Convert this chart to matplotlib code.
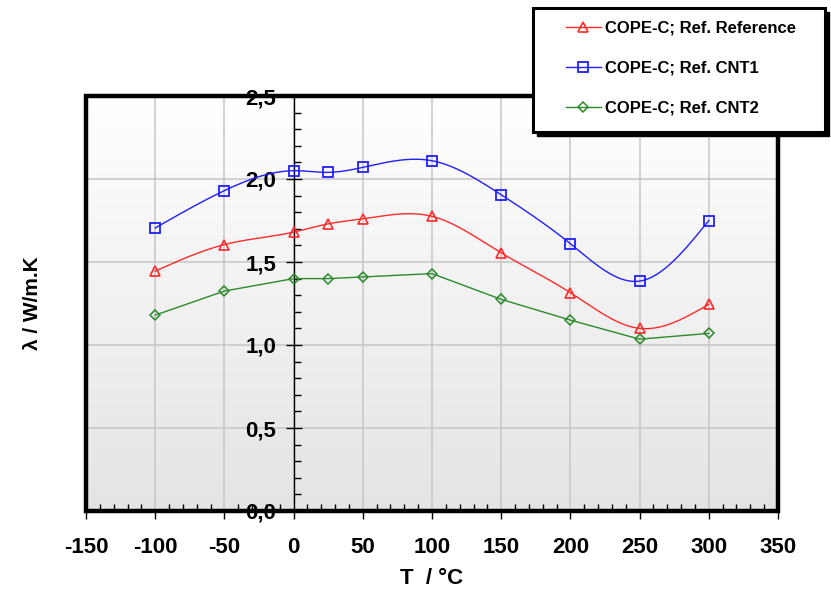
import numpy as np
import matplotlib
matplotlib.use('Agg')
import matplotlib.pyplot as plt
from matplotlib.patches import Rectangle
from matplotlib.lines import Line2D
from matplotlib.colors import LinearSegmentedColormap
from matplotlib.ticker import MultipleLocator, FuncFormatter

plt.rcParams['font.family'] = ['Liberation Sans', 'DejaVu Sans']
plt.rcParams['axes.unicode_minus'] = False

# data
temps = [-100, -50, 0, 25, 50, 100, 150, 200, 250, 300]
lam_ref = [1.445, 1.605, 1.68, 1.73, 1.76, 1.775, 1.555, 1.315, 1.10, 1.245]
lam_cnt1 = [1.705, 1.93, 2.05, 2.04, 2.07, 2.11, 1.905, 1.61, 1.385, 1.75]
lam_cnt2 = [1.18, 1.325, 1.40, 1.40, 1.41, 1.43, 1.275, 1.15, 1.035, 1.07]
labels = ['COPE-C; Ref. Reference', 'COPE-C; Ref. CNT1', 'COPE-C; Ref. CNT2']


def natural_spline(x, y, n=400):
    # natural cubic spline through the points, only used for drawing the curve
    x = np.asarray(x, float)
    y = np.asarray(y, float)
    k = len(x)
    h = np.diff(x)
    A = np.zeros((k, k))
    b = np.zeros(k)
    A[0, 0] = 1
    A[-1, -1] = 1
    for i in range(1, k - 1):
        A[i, i - 1] = h[i - 1]
        A[i, i] = 2 * (h[i - 1] + h[i])
        A[i, i + 1] = h[i]
        b[i] = 3 * ((y[i + 1] - y[i]) / h[i] - (y[i] - y[i - 1]) / h[i - 1])
    c = np.linalg.solve(A, b)
    xs = np.linspace(x[0], x[-1], n)
    idx = np.clip(np.searchsorted(x, xs) - 1, 0, k - 2)
    dx = xs - x[idx]
    hi = h[idx]
    bb = (y[idx + 1] - y[idx]) / hi - hi * (2 * c[idx] + c[idx + 1]) / 3
    dd = (c[idx + 1] - c[idx]) / (3 * hi)
    ys = y[idx] + bb * dx + c[idx] * dx ** 2 + dd * dx ** 3
    return xs, ys


W, H = 831, 591
fig = plt.figure(figsize=(W / 100, H / 100), dpi=100)
ax = fig.add_axes([86 / W, 1 - 511 / H, 692 / W, 415 / H])

# gradient background
grad = np.linspace(0, 1, 256).reshape(-1, 1)
cmap = LinearSegmentedColormap.from_list('bg', ['#ffffff', '#e4e4e4'])
ax.imshow(grad, extent=[-150, 350, 0, 2.5], aspect='auto', cmap=cmap,
          origin='upper', zorder=0)

red = '#ff2a2a'
blue = '#1f1fff'
green = '#2a8a2a'

xs, ys = natural_spline(temps, lam_ref)
ax.plot(xs, ys, color=red, lw=1.0, zorder=3)
ax.plot(temps, lam_ref, ls='none', marker='^', ms=7, mfc='none', mec=red, mew=1.2, zorder=4)

xs, ys = natural_spline(temps, lam_cnt1)
ax.plot(xs, ys, color=blue, lw=1.0, zorder=3)
ax.plot(temps, lam_cnt1, ls='none', marker='s', ms=7, mfc='none', mec=blue, mew=1.3, zorder=4)

ax.plot(temps, lam_cnt2, color=green, lw=1.0, marker='D', ms=5, mfc='none',
        mec=green, mew=1.1, zorder=3)

ax.set_xlim(-150, 350)
ax.set_ylim(0, 2.5)

for v in range(-100, 301, 50):
    ax.axvline(v, color='#c6c6c6', lw=1.1, zorder=1)
for v in [0.5, 1.0, 1.5, 2.0]:
    ax.axhline(v, color='#c6c6c6', lw=1.1, zorder=1)

for s in ['top', 'right', 'bottom']:
    ax.spines[s].set_visible(False)
ax.spines['left'].set_position(('data', 0))
ax.spines['left'].set_linewidth(1.0)
ax.spines['left'].set_zorder(2)

ax.add_patch(Rectangle((0, 0), 1, 1, transform=ax.transAxes, fill=False,
                       ec='black', lw=3.2, clip_on=False, zorder=5))

ax.xaxis.set_major_locator(MultipleLocator(50))
ax.xaxis.set_minor_locator(MultipleLocator(10))
ax.yaxis.set_major_locator(MultipleLocator(0.5))
ax.yaxis.set_minor_locator(MultipleLocator(0.1))
ax.yaxis.set_major_formatter(FuncFormatter(lambda v, p: ('%.1f' % v).replace('.', ',')))

ax.tick_params(axis='x', which='major', direction='out', length=6, width=1,
               pad=13, labelsize=16)
ax.tick_params(axis='x', which='minor', direction='in', length=5, width=1)
ax.tick_params(axis='y', which='major', direction='inout', length=11, width=1,
               pad=7, labelsize=16)
ax.tick_params(axis='y', which='minor', direction='in', length=5, width=1)
for t in ax.get_yticklabels():
    t.set_fontweight('bold')
for t in ax.get_xticklabels():
    t.set_fontweight('bold')

ax.set_xlabel('T  / \u00b0C', fontsize=16, fontweight='bold', labelpad=7)
ax.set_ylabel('\u03bb / W/m.K', fontsize=15, fontweight='bold')
ax.yaxis.set_label_coords(-0.064, 0.5)

# legend box with shadow
lx0, ly0, lw_, lh = 533 / W, 1 - 132 / H, 292 / W, 124 / H
fig.patches.append(Rectangle((lx0 + 4 / W, ly0 - 4 / H), lw_, lh, transform=fig.transFigure,
                             fc='black', ec='black', zorder=8))
fig.patches.append(Rectangle((lx0, ly0), lw_, lh, transform=fig.transFigure,
                             fc='white', ec='black', lw=2.2, zorder=9))

handles = [
    Line2D([], [], color=red, lw=1.0, marker='^', ms=7, mfc='none', mec=red, mew=1.2),
    Line2D([], [], color=blue, lw=1.0, marker='s', ms=7, mfc='none', mec=blue, mew=1.3),
    Line2D([], [], color=green, lw=1.0, marker='D', ms=5, mfc='none', mec=green, mew=1.1),
]
leg = fig.legend(handles, labels, loc='upper left', bbox_to_anchor=(559 / W, 1 - 14 / H),
                 frameon=False, prop={'size': 12, 'weight': 'bold'},
                 handlelength=2.1, handletextpad=0.25, labelspacing=1.5,
                 borderaxespad=0, borderpad=0.4)
leg.set_zorder(10)

fig.savefig('out.png', dpi=100)
